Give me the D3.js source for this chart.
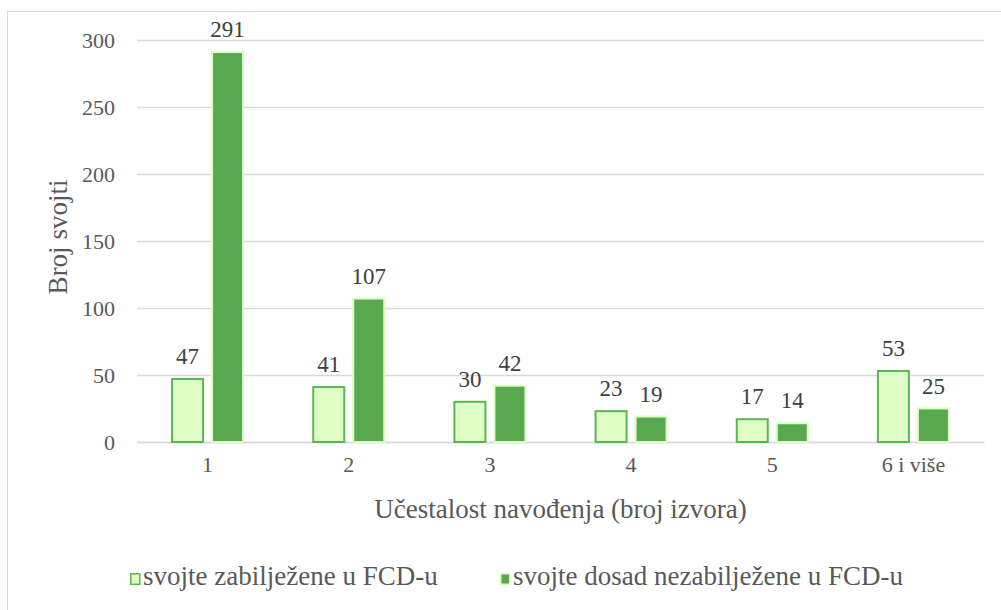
<!DOCTYPE html>
<html><head><meta charset="utf-8">
<script src="https://cdn.jsdelivr.net/npm/d3@7"></script>
</head><body style="margin:0">
<svg id="c" width="1001" height="610"></svg>
<script>
const categories = ["1","2","3","4","5","6 i više"];
const recorded = [47,41,30,23,17,53];
const unrecorded = [291,107,42,19,14,25];
const seriesNames = ["svojte zabilježene u FCD-u","svojte dosad nezabilježene u FCD-u"];
const yTicks = [0,50,100,150,200,250,300];

const fams = ["Liberation Serif","Times New Roman"];
const FONT = `"${fams[0]}"`;
function ff(sel, size){ sel.style("font-family", FONT).style("font-size", size+"px"); return sel; }

const svg = d3.select("#c");
const m={l:137,r:984,t:40,b:442};
svg.append("rect").attr("x",7.5).attr("y",11.5).attr("width",1000).attr("height",700)
  .attr("fill","#fff").attr("stroke","#d9d9d9").attr("stroke-width",1);

const x = d3.scaleBand().domain(categories).range([m.l,m.r]);
const y = d3.scaleLinear().domain([0,300]).range([m.b,m.t]);

const yAxis = d3.axisLeft(y).tickValues(yTicks).tickSize(-(m.r-m.l)).tickPadding(22);
const ga = svg.append("g").attr("transform",`translate(${m.l},0)`).call(yAxis);
ga.attr("font-family",null).attr("font-size",null);
ga.select(".domain").remove();
ga.selectAll(".tick line").attr("stroke","#d9d9d9").attr("stroke-width",1.5);
ff(ga.selectAll(".tick text"),22).attr("fill","#595959");

const xAxis = d3.axisBottom(x).tickSize(0).tickPadding(14);
const gx = svg.append("g").attr("transform",`translate(0,${m.b})`).call(xAxis);
gx.attr("font-family",null).attr("font-size",null);
gx.select(".domain").attr("stroke","#d9d9d9").attr("stroke-width",1.5);
ff(gx.selectAll(".tick text"),22).attr("fill","#595959");

const bw=31, off=20;
const series=[
  {vals:recorded, dx:-off, fill:"#e0ffc6", stroke:"#5cb553"},
  {vals:unrecorded, dx:off, fill:"#59a951", stroke:"#dcfcc4"}
];
series.forEach(s=>{
  const g=svg.append("g");
  g.selectAll("rect").data(categories).join("rect")
    .attr("x",(d)=>x(d)+x.bandwidth()/2+s.dx-bw/2)
    .attr("y",(d,i)=>y(s.vals[i]))
    .attr("width",bw)
    .attr("height",(d,i)=>y(0)-y(s.vals[i]))
    .attr("fill",s.fill).attr("stroke",s.stroke).attr("stroke-width",2);
  ff(g.selectAll("text").data(categories).join("text"),23)
    .attr("x",(d)=>x(d)+x.bandwidth()/2+s.dx)
    .attr("y",(d,i)=>y(s.vals[i])-15)
    .attr("text-anchor","middle")
    .attr("fill","#404040")
    .text((d,i)=>s.vals[i]);
});

ff(svg.append("text"),27).attr("transform",`translate(67,237) rotate(-90)`)
  .attr("text-anchor","middle").attr("fill","#595959")
  .text("Broj svojti");
ff(svg.append("text"),27).attr("x",(m.l+m.r)/2).attr("y",518)
  .attr("text-anchor","middle").attr("fill","#595959")
  .text("Učestalost navođenja (broj izvora)");

const lx=[130,500];
series.forEach((s,i)=>{
  svg.append("rect").attr("x",lx[i]+0.75).attr("y",573.75).attr("width",9).attr("height",10.5)
    .attr("fill",s.fill).attr("stroke",s.stroke).attr("stroke-width",1.5);
  ff(svg.append("text"),27).attr("x",lx[i]+13).attr("y",585)
    .attr("fill","#595959").text(seriesNames[i]);
});
</script>
</body></html>
